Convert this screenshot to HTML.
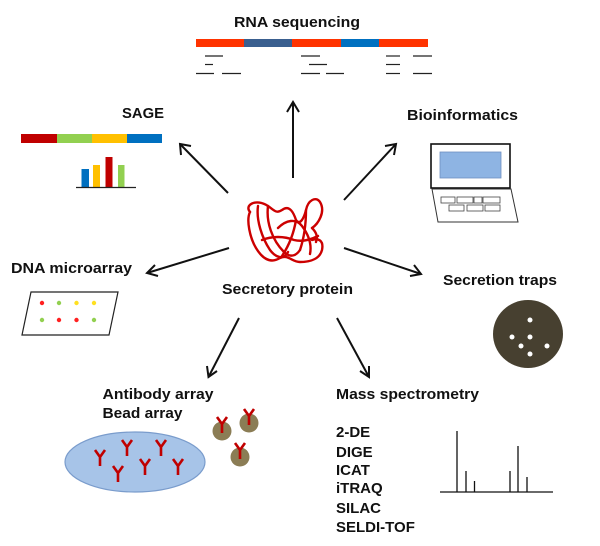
<!DOCTYPE html>
<html><head><meta charset="utf-8"><style>html,body{margin:0;padding:0;background:#fff;width:600px;height:546px;overflow:hidden}</style></head>
<body>
<svg width="600" height="546" viewBox="0 0 600 546" xmlns="http://www.w3.org/2000/svg" font-family="Liberation Sans, Arial, sans-serif" font-weight="bold" font-size="15" fill="#111">
<defs>
<g id="ab"><path d="M0,0 L0,-9 M0,-9 L-5,-16 M0,-9 L5,-16" stroke="#c00000" stroke-width="2.6" fill="none"/></g>
</defs>
<text x="234" y="27" textLength="126" lengthAdjust="spacingAndGlyphs">RNA sequencing</text>
<rect x="196" y="39" width="48" height="8" fill="#ff3300"/>
<rect x="244" y="39" width="48" height="8" fill="#3a5f8f"/>
<rect x="292" y="39" width="49" height="8" fill="#ff3300"/>
<rect x="341" y="39" width="38" height="8" fill="#0070c0"/>
<rect x="379" y="39" width="49" height="8" fill="#ff3300"/>
<g stroke="#222" stroke-width="1.2">
<line x1="205" y1="56" x2="223" y2="56"/><line x1="205" y1="64.5" x2="213" y2="64.5"/>
<line x1="196" y1="73.5" x2="214" y2="73.5"/><line x1="222" y1="73.5" x2="241" y2="73.5"/>
<line x1="301" y1="56" x2="320" y2="56"/><line x1="309" y1="64.5" x2="327" y2="64.5"/>
<line x1="301" y1="73.5" x2="320" y2="73.5"/><line x1="326" y1="73.5" x2="344" y2="73.5"/>
<line x1="386" y1="56" x2="400" y2="56"/><line x1="413" y1="56" x2="432" y2="56"/>
<line x1="386" y1="64.5" x2="400" y2="64.5"/>
<line x1="386" y1="73.5" x2="400" y2="73.5"/><line x1="413" y1="73.5" x2="432" y2="73.5"/>
</g>
<g stroke="#111" stroke-width="2" fill="none">
<line x1="293" y1="178" x2="293" y2="102"/><polyline points="287,112 293,102 299,112"/>
<line x1="228" y1="193" x2="180" y2="144"/><polyline points="181,155 180,144 191,146"/>
<line x1="344" y1="200" x2="396" y2="144"/><polyline points="385,146 396,144 394,155"/>
<line x1="229" y1="248" x2="147" y2="273"/><polyline points="155,265 147,273 158,276"/>
<line x1="344" y1="248" x2="421" y2="274"/><polyline points="410,276 421,274 414,265"/>
<line x1="239" y1="318" x2="208.5" y2="377"/><polyline points="207,366 208.5,377 217,371"/>
<line x1="337" y1="318" x2="369" y2="377"/><polyline points="360,371 369,377 369,366"/>
</g>
<text x="122" y="118" textLength="42" lengthAdjust="spacingAndGlyphs">SAGE</text>
<rect x="21" y="134" width="36" height="9" fill="#c00000"/>
<rect x="57" y="134" width="35" height="9" fill="#92d050"/>
<rect x="92" y="134" width="35" height="9" fill="#ffc000"/>
<rect x="127" y="134" width="35" height="9" fill="#0070c0"/>
<rect x="81.5" y="169" width="7.5" height="18" fill="#0070c0"/>
<rect x="93" y="165" width="7" height="22" fill="#ffc000"/>
<rect x="105.5" y="157" width="7" height="30" fill="#c00000"/>
<rect x="118" y="165" width="6.5" height="22" fill="#92d050"/>
<line x1="76" y1="187.5" x2="136" y2="187.5" stroke="#222" stroke-width="1.2"/>
<text x="407" y="120" textLength="111" lengthAdjust="spacingAndGlyphs">Bioinformatics</text>
<rect x="431" y="144" width="79" height="44" fill="#fff" stroke="#111" stroke-width="1.6"/>
<rect x="440" y="152" width="61" height="26" fill="#8eb4e3" stroke="#6f8fc0" stroke-width="0.8"/>
<polygon points="432,189 511,189 518,222 438,222" fill="#fff" stroke="#333" stroke-width="1"/>
<g fill="#fff" stroke="#444" stroke-width="0.8">
<rect x="441" y="197" width="14" height="6"/><rect x="457" y="197" width="16" height="6"/><rect x="474" y="197" width="8" height="6"/><rect x="483" y="197" width="17" height="6"/>
<rect x="449" y="205" width="15" height="6"/><rect x="467" y="205" width="16" height="6"/><rect x="485" y="205" width="15" height="6"/>
</g>
<!-- protein -->
<g stroke="#cc0000" stroke-width="2.4" fill="none" stroke-linecap="round" stroke-linejoin="round">
<path d="M250,212 C244,205 256,198 268,206 C274,210 276,214 282,210 C290,204 294,214 296,220 C300,226 304,218 306,210 C308,200 316,196 320,202 C326,212 318,224 312,228"/>
<path d="M250,212 C246,220 250,238 256,248 C262,258 270,264 280,258 C288,254 292,262 300,262 C312,262 320,258 322,250 C324,240 318,238 312,240"/>
<path d="M258,206 C256,220 262,238 270,250 C276,258 284,260 288,252"/>
<path d="M268,206 C266,222 272,240 284,252 C290,258 296,256 300,250"/>
<path d="M296,220 C294,232 290,244 282,256"/>
<path d="M306,210 C306,226 304,238 300,250"/>
<path d="M278,228 C286,220 296,218 302,226 C308,234 312,244 310,254"/>
<path d="M262,240 C272,236 284,236 294,240 C302,242 310,240 318,236"/>
<path d="M312,228 C316,232 318,236 316,242"/>
</g>
<text x="222" y="294" textLength="131" lengthAdjust="spacingAndGlyphs">Secretory protein</text>
<text x="11" y="273" textLength="121" lengthAdjust="spacingAndGlyphs">DNA microarray</text>
<polygon points="31,292 118,292 109,335 22,335" fill="#fff" stroke="#222" stroke-width="1.2"/>
<circle cx="42" cy="303" r="2.2" fill="#ff2020"/><circle cx="59" cy="303" r="2.2" fill="#92d050"/><circle cx="76.5" cy="303" r="2.2" fill="#ffe020"/><circle cx="94" cy="303" r="2.2" fill="#ffe020"/>
<circle cx="42" cy="320" r="2.2" fill="#92d050"/><circle cx="59" cy="320" r="2.2" fill="#ff2020"/><circle cx="76.5" cy="320" r="2.2" fill="#ff2020"/><circle cx="94" cy="320" r="2.2" fill="#92d050"/>
<text x="443" y="285" textLength="114" lengthAdjust="spacingAndGlyphs">Secretion traps</text>
<ellipse cx="528" cy="334" rx="35" ry="34" fill="#474030"/>
<g fill="#fff"><circle cx="530" cy="320" r="2.5"/><circle cx="512" cy="337" r="2.5"/><circle cx="530" cy="337" r="2.5"/><circle cx="547" cy="346" r="2.5"/><circle cx="521" cy="346" r="2.5"/><circle cx="530" cy="354" r="2.5"/></g>
<text x="102.5" y="399" textLength="111" lengthAdjust="spacingAndGlyphs">Antibody array</text>
<text x="102.5" y="418" textLength="80" lengthAdjust="spacingAndGlyphs">Bead array</text>
<ellipse cx="135" cy="462" rx="70" ry="30" fill="#a7c4e8" stroke="#7a9ccc" stroke-width="1.2"/>
<use href="#ab" x="100" y="466"/><use href="#ab" x="127" y="456"/><use href="#ab" x="161" y="456"/>
<use href="#ab" x="118" y="482"/><use href="#ab" x="145" y="475"/><use href="#ab" x="178" y="475"/>
<g fill="#8b7d55"><circle cx="222" cy="431" r="9.5"/><circle cx="249" cy="423" r="9.5"/><circle cx="240" cy="457" r="9.5"/></g>
<use href="#ab" x="222" y="433"/><use href="#ab" x="249" y="425"/><use href="#ab" x="240" y="459"/>
<text x="336" y="399" textLength="143" lengthAdjust="spacingAndGlyphs">Mass spectrometry</text>
<text x="336" y="437">2-DE</text>
<text x="336" y="457">DIGE</text>
<text x="336" y="475">ICAT</text>
<text x="336" y="493">iTRAQ</text>
<text x="336" y="513">SILAC</text>
<text x="336" y="532">SELDI-TOF</text>
<g stroke="#111" stroke-width="1.3">
<line x1="440" y1="492" x2="553" y2="492"/>
<line x1="457" y1="431" x2="457" y2="492"/><line x1="466" y1="471" x2="466" y2="492"/><line x1="474.5" y1="481" x2="474.5" y2="492"/>
<line x1="510" y1="471" x2="510" y2="492"/><line x1="518" y1="446" x2="518" y2="492"/><line x1="527" y1="477" x2="527" y2="492"/>
</g>
</svg>
</body></html>
